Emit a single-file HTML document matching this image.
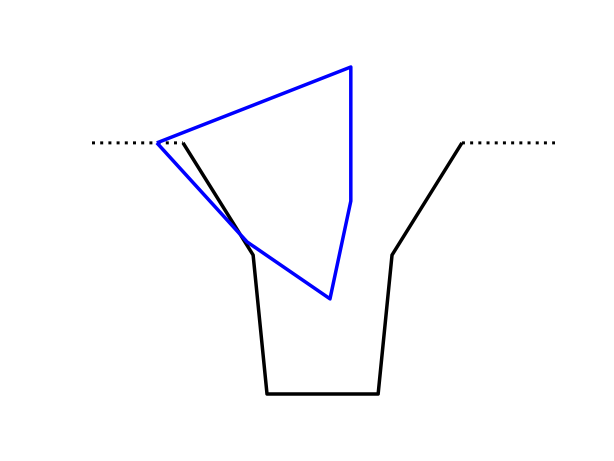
<!DOCTYPE html>
<html><head><meta charset="utf-8"><style>html,body{margin:0;padding:0;background:#fff;}svg{display:block}</style></head>
<body>
<svg id="chart" width="614" height="461" xmlns="http://www.w3.org/2000/svg">
<rect width="614" height="461" fill="#fff"/>
<g id="plot"></g>
</svg>
<script>
const blackX = [19.65, 34.8, 37.8, 61.8, 64.8, 79.9];
const blackY = [76.8, 42.5, 0, 0, 42.5, 76.8];
const dotLeftX = [0, 19.65];
const dotLeftY = [76.8, 76.8];
const dotRightX = [79.9, 100];
const dotRightY = [76.8, 76.8];
const blueX = [14.0, 55.9, 55.9, 51.4, 33.5, 14.0];
const blueY = [76.8, 100, 59.0, 29.1, 46.5, 76.8];

function xs(v){ return 92 + v*(555-92)/100; }
function ys(v){ return 394 - v*(394-67)/100; }
const NS = "http://www.w3.org/2000/svg";
const g = document.getElementById('plot');
function line(xa, ya, color, dash, w, name){
  const p = document.createElementNS(NS,'polyline');
  p.setAttribute('points', xa.map((x,i)=>xs(x)+','+ys(ya[i])).join(' '));
  p.setAttribute('fill','none');
  p.setAttribute('stroke',color);
  p.setAttribute('stroke-width',w);
  p.setAttribute('stroke-linejoin','round');
  if(dash){ p.setAttribute('stroke-dasharray', dash); }
  
  
  g.appendChild(p);
}
line(dotLeftX, dotLeftY, '#000', '3 5.2', '3', 'dotted-left-segment');
line(dotRightX, dotRightY, '#000', '3 5.2', '3', 'dotted-right-segment');
line(blackX, blackY, '#000', null, '3.5', 'black-line');
line(blueX, blueY, '#0000ff', null, '3.5', 'blue-line');
</script>
</body></html>
